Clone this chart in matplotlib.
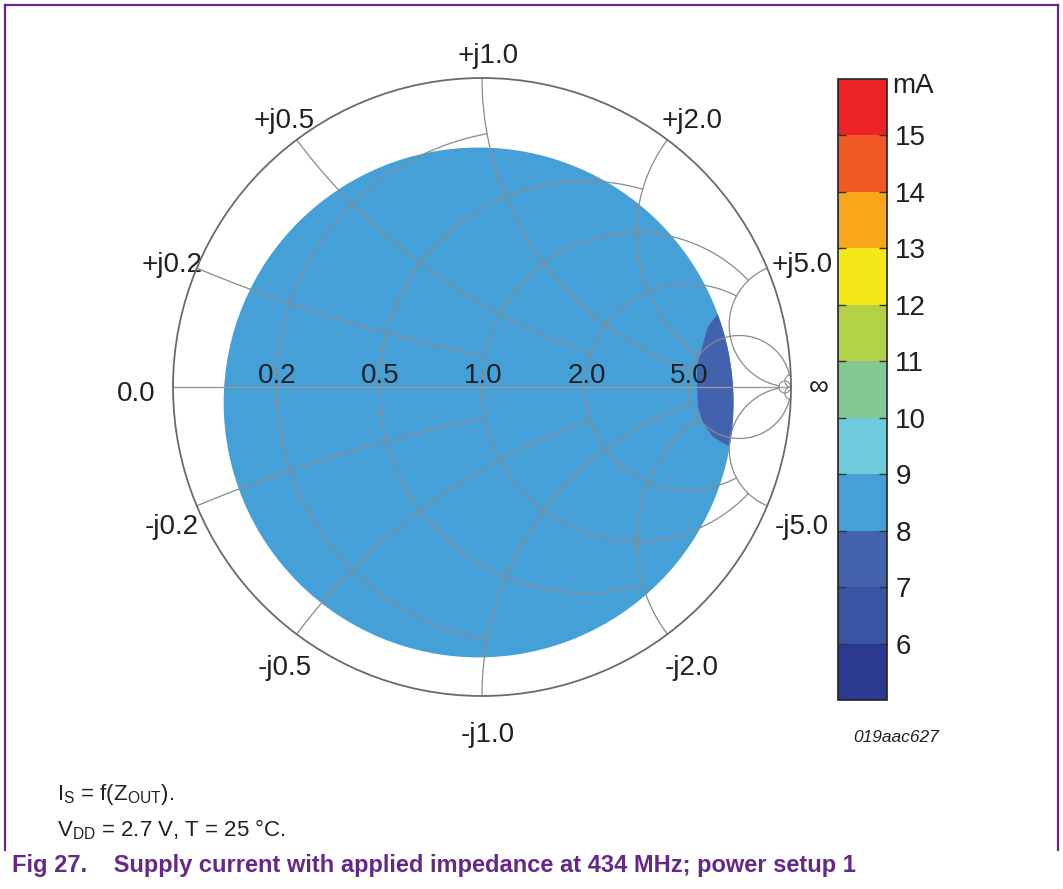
import numpy as np
import matplotlib
matplotlib.use('Agg')
import matplotlib.pyplot as plt
import matplotlib as mpl
from matplotlib.colors import ListedColormap, BoundaryNorm
from matplotlib.patches import Circle, Polygon
from matplotlib.lines import Line2D

plt.rcParams['font.family'] = ['Liberation Sans', 'DejaVu Sans']
plt.rcParams['mathtext.fontset'] = 'custom'
plt.rcParams['mathtext.rm'] = 'Liberation Sans'
plt.rcParams['mathtext.it'] = 'Liberation Sans:italic'
plt.rcParams['mathtext.bf'] = 'Liberation Sans:bold'

# colour scale of the supply current (mA)
levels = [5, 6, 7, 8, 9, 10, 11, 12, 13, 14, 15, 16]
level_colors = ['#2b3990', '#3a53a3', '#4262ae', '#45a0d8', '#6ecbdb', '#82c995',
                '#b3d147', '#f4e918', '#faa61a', '#f15a24', '#ec2227']
cbar_ticks = [6, 7, 8, 9, 10, 11, 12, 13, 14, 15]

# smith chart grid values and how far each line is drawn
r_grid = [0.2, 0.5, 1.0, 2.0, 5.0]
r_xlimit = [1.0, 2.0, 5.0, 5.0, 50.0]
x_grid = [0.2, 0.5, 1.0, 2.0, 5.0]
x_rlimit = [1.0, 2.0, 5.0, 5.0, 50.0]
x_labels = ['0.2', '0.5', '1.0', '2.0', '5.0']

# measured area in the reflection plane, 8..9 mA almost everywhere
meas_center = (-0.011, -0.050)
meas_radius = 0.825
meas_level = 8.5

# 7..8 mA pocket near the open-circuit side (boundary)
pocket_level = 7.5
pocket_re = [0.764, 0.731, 0.712, 0.696, 0.696, 0.699, 0.715, 0.748, 0.780, 0.806, 0.964, 0.964]
pocket_im = [0.239, 0.194, 0.129, 0.065, 0.000, -0.065, -0.117, -0.162, -0.181, -0.194, -0.194, 0.239]

# outer reactance labels (text baseline positions in the gamma plane)
jlab_text = ['+j1.0', '+j0.5', '+j2.0', '+j0.2', '+j5.0', '-j0.2', '-j5.0', '-j0.5', '-j2.0', '-j1.0']
jlab_x = [0.019, -0.641, 0.680, -1.003, 1.036, -1.003, 1.036, -0.638, 0.680, 0.019]
jlab_y = [1.049, 0.838, 0.838, 0.372, 0.372, -0.476, -0.476, -0.932, -0.932, -1.149]

purple = '#65288a'
text_c = '#231f20'
grid_c = '#8a8a8a'

W, H = 1063, 889
fig = plt.figure(figsize=(W / 100, H / 100), dpi=100)

# smith chart axes: centre at (482, 387) px, unit radius = 309 px
cx, cy, R, half = 482, 387, 309, 330
ax = fig.add_axes([(cx - half) / W, (H - cy - half) / H, 2 * half / W, 2 * half / H])
ax.set_xlim(-half / R, half / R)
ax.set_ylim(-half / R, half / R)
ax.axis('off')

cmap = ListedColormap(level_colors)
norm = BoundaryNorm(levels, cmap.N)

# data area
area = Circle(meas_center, meas_radius, facecolor=cmap(norm(meas_level)), edgecolor='none', zorder=1)
ax.add_patch(area)
pocket = Polygon(np.column_stack([pocket_re, pocket_im]), closed=True,
                 facecolor=cmap(norm(pocket_level)), edgecolor='none', zorder=2)
ax.add_patch(pocket)
pocket.set_clip_path(area)


def to_gamma(z):
    return (z - 1) / (z + 1)


# resistance circles
for r, xl in zip(r_grid, r_xlimit):
    xs = np.sinh(np.linspace(-np.arcsinh(xl), np.arcsinh(xl), 1500))
    g = to_gamma(r + 1j * xs)
    ax.plot(g.real, g.imag, color=grid_c, lw=0.9, zorder=3)

# reactance arcs
for xv, rl in zip(x_grid, x_rlimit):
    rs = np.sinh(np.linspace(0, np.arcsinh(rl), 1500))
    for s in (1, -1):
        g = to_gamma(rs + 1j * s * xv)
        ax.plot(g.real, g.imag, color=grid_c, lw=0.9, zorder=3)

# tiny circles close to the open-circuit point
t = np.linspace(0, 2 * np.pi, 400)
g = to_gamma(50 + 1j * np.tan(t / 2 - 1e-6))
ax.plot(g.real, g.imag, color=grid_c, lw=0.8, zorder=3)
rs = np.sinh(np.linspace(0, np.arcsinh(5000), 800))
for s in (1, -1):
    g = to_gamma(rs + 1j * s * 50)
    ax.plot(g.real, g.imag, color=grid_c, lw=0.8, zorder=3)

# real axis and outer circle
ax.plot([-1, 1], [0, 0], color='#9a9a9a', lw=1.0, zorder=3)
ax.add_patch(Circle((0, 0), 1, facecolor='none', edgecolor='#6a6a6a', lw=1.3, zorder=4))

# labels
for v, lab in zip(r_grid, x_labels):
    ax.text(to_gamma(v) + 0.005, 0.013, lab, fontsize=20, color=text_c,
            ha='center', va='baseline', zorder=5)
for lab, px, py in zip(jlab_text, jlab_x, jlab_y):
    ax.text(px, py, lab, fontsize=20, color=text_c, ha='center', va='baseline')
ax.text(-1.12, -0.045, '0.0', fontsize=20, color=text_c, ha='center', va='baseline')
ax.text(1.091, -0.003, '\u221e', fontsize=20, color=text_c, ha='center', va='center')

# colour bar
cax = fig.add_axes([838 / W, (H - 700) / H, 49 / W, 621 / H])
cb = mpl.colorbar.ColorbarBase(cax, cmap=cmap, norm=norm, boundaries=levels, ticks=cbar_ticks)
cb.outline.set_linewidth(1.2)
cb.outline.set_edgecolor('#222222')
cax.minorticks_off()
cax.tick_params(direction='in', length=6, width=1, left=True, right=True,
                labelsize=20, pad=6, labelcolor=text_c, color='#333333')
for tl in cax.get_yticklabels():
    tl.set_va('center_baseline')
fig.text(892 / W, 1 - 93 / H, 'mA', fontsize=20, color=text_c, ha='left', va='baseline')

fig.text(896 / W, 1 - 742 / H, '019aac627', fontsize=12.5, style='italic', color=text_c,
         ha='center', va='baseline')

# notes and caption
fig.text(57 / W, 1 - 800 / H, r'I$_\mathregular{S}$ = f(Z$_\mathregular{OUT}$).',
         fontsize=16, color=text_c, va='baseline')
fig.text(57 / W, 1 - 836 / H, r'V$_\mathregular{DD}$ = 2.7 V, T = 25 $\mathregular{\degree}$C.',
         fontsize=16, color=text_c, va='baseline')
fig.text(12 / W, 1 - 872 / H, 'Fig 27.    Supply current with applied impedance at 434 MHz; power setup 1',
         fontsize=17, fontweight='bold', color=purple, va='baseline')

# frame
for xs_, ys_ in [([5, 5], [5, 850]), ([5, 1058], [5, 5]), ([1058, 1058], [5, 850])]:
    fig.add_artist(Line2D([v / W for v in xs_], [1 - v / H for v in ys_], color=purple, lw=1.6))

fig.savefig('out.png', dpi=100)
